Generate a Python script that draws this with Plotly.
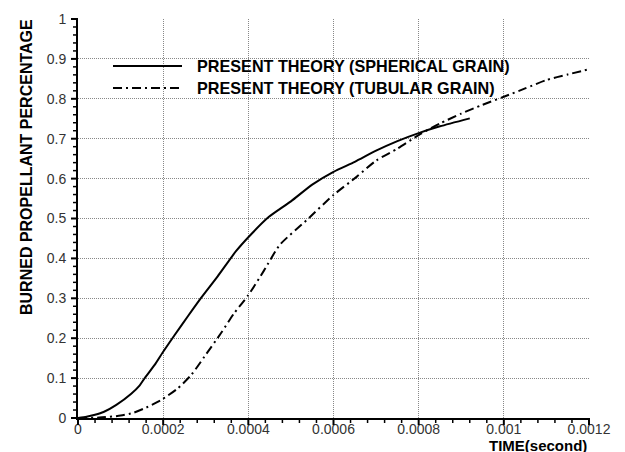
import plotly.graph_objects as go

# Burned fraction vs. time for the two grain geometries
t_spherical = [0, 0.00002, 0.00004, 0.00006, 0.00009, 0.000125, 0.000145, 0.000156,
               0.00018, 0.0002, 0.000227, 0.000258, 0.000289, 0.000328, 0.000371,
               0.0004, 0.000447, 0.0005, 0.00055, 0.0006, 0.00065, 0.0007, 0.00075,
               0.0008, 0.00085, 0.00092]
y_spherical = [0, 0.003, 0.008, 0.015, 0.033, 0.061, 0.082, 0.099,
               0.133, 0.166, 0.208, 0.255, 0.301, 0.355, 0.418,
               0.453, 0.503, 0.543, 0.585, 0.617, 0.642, 0.670, 0.694,
               0.714, 0.731, 0.751]

t_tubular = [0, 0.00005, 0.0001, 0.00013, 0.00016, 0.000195, 0.000234, 0.000266,
             0.000297, 0.000336, 0.000367, 0.0004, 0.000437, 0.000474, 0.000537,
             0.0006, 0.000655, 0.0007, 0.00075, 0.0008, 0.00085, 0.0009, 0.00095,
             0.001, 0.00105, 0.0011, 0.00115, 0.0012]
y_tubular = [0, 0.001, 0.006, 0.013, 0.026, 0.045, 0.074, 0.108,
             0.154, 0.213, 0.263, 0.308, 0.370, 0.434, 0.496,
             0.559, 0.605, 0.645, 0.675, 0.709, 0.738, 0.763, 0.785,
             0.805, 0.826, 0.847, 0.861, 0.874]

x_tickvals = [0, 0.0002, 0.0004, 0.0006, 0.0008, 0.001, 0.0012]
x_ticktext = ["0", "0.0002", "0.0004", "0.0006", "0.0008", "0.001", "0.0012"]
y_tickvals = [0, 0.1, 0.2, 0.3, 0.4, 0.5, 0.6, 0.7, 0.8, 0.9, 1.0]
y_ticktext = ["0", "0.1", "0.2", "0.3", "0.4", "0.5", "0.6", "0.7", "0.8", "0.9", "1"]
x_minor_step = 0.00004
y_minor_step = 0.02
x_range = [0, 0.0012]
y_range = [0, 1]

series_names = ["PRESENT THEORY (SPHERICAL GRAIN)", "PRESENT THEORY (TUBULAR GRAIN)"]

FONT = "Liberation Sans, Arial, sans-serif"
DASHDOT = "9px,4px,2px,4px"

fig = go.Figure()
fig.add_trace(go.Scatter(x=t_spherical, y=y_spherical, mode="lines", name=series_names[0],
                         line=dict(color="black", width=2, shape="spline", smoothing=0.6),
                         showlegend=False))
fig.add_trace(go.Scatter(x=t_tubular, y=y_tubular, mode="lines", name=series_names[1],
                         line=dict(color="black", width=2, dash=DASHDOT, shape="spline", smoothing=0.6),
                         showlegend=False))

W, H = 625, 452
L, R, T, B = 78, 36, 19, 34
pw, ph = W - L - R, H - T - B


def px_x(px):
    return (px - L) / pw


def px_y(py):
    return (H - B - py) / ph


def frac_x(v):
    return (v - x_range[0]) / (x_range[1] - x_range[0])


def frac_y(v):
    return (v - y_range[0]) / (y_range[1] - y_range[0])


shapes = []
annotations = []

# ruler-style tick marks below the time axis and left of the fraction axis
n_x = int(round((x_range[1] - x_range[0]) / x_minor_step))
for i in range(n_x + 1):
    fx = frac_x(x_range[0] + i * x_minor_step)
    major = i % 5 == 0
    ln = 7 if major else 5
    shapes.append(dict(type="line", xref="paper", yref="paper", x0=fx, x1=fx,
                       y0=0, y1=-ln / ph, layer="above",
                       line=dict(color="black", width=2 if major else 1.5)))
n_y = int(round((y_range[1] - y_range[0]) / y_minor_step))
for i in range(n_y + 1):
    fy = frac_y(y_range[0] + i * y_minor_step)
    major = i % 5 == 0
    ln = 7 if major else 5
    shapes.append(dict(type="line", xref="paper", yref="paper", x0=0, x1=-ln / pw,
                       y0=fy, y1=fy, layer="above",
                       line=dict(color="black", width=2 if major else 1.5)))

# hand-built legend: line samples and labels
legend_rows = [(66, "solid"), (88, DASHDOT)]
for (py, dash), label in zip(legend_rows, series_names):
    shapes.append(dict(type="line", xref="paper", yref="paper",
                       x0=px_x(113), x1=px_x(182), y0=px_y(py), y1=px_y(py),
                       line=dict(color="black", width=2, dash=dash)))
    annotations.append(dict(xref="paper", yref="paper", x=px_x(195), y=px_y(py),
                            xanchor="left", yanchor="middle", showarrow=False,
                            text=label,
                            font=dict(family=FONT, size=16.2, color="black", weight="bold")))

annotations.append(dict(xref="paper", yref="paper", x=px_x(589), y=px_y(445),
                        xanchor="right", yanchor="middle", showarrow=False,
                        text="TIME(second)",
                        font=dict(family=FONT, size=15, color="black", weight="bold")))
annotations.append(dict(xref="paper", yref="paper", x=px_x(26), y=px_y(167),
                        xanchor="center", yanchor="middle", showarrow=False, textangle=-90,
                        text="BURNED PROPELLANT PERCENTAGE",
                        font=dict(family=FONT, size=16, color="black", weight="bold")))

axis_common = dict(ticks="", showline=True, linecolor="black", linewidth=2, zeroline=False,
                   showgrid=True, gridcolor="#888888", gridwidth=1, griddash="1px,1px",
                   tickfont=dict(family=FONT, size=14, color="#333333"))

fig.update_layout(
    width=W, height=H, margin=dict(l=L, r=R, t=T, b=B, autoexpand=False),
    plot_bgcolor="white", paper_bgcolor="white",
    shapes=shapes, annotations=annotations, showlegend=False,
    xaxis=dict(range=x_range, tickmode="array", tickvals=x_tickvals, ticktext=x_ticktext,
               ticklabelstandoff=-3, **axis_common),
    yaxis=dict(range=y_range, tickmode="array", tickvals=y_tickvals, ticktext=y_ticktext,
               ticklabelstandoff=7, **axis_common),
)

fig.write_html("out.html")
